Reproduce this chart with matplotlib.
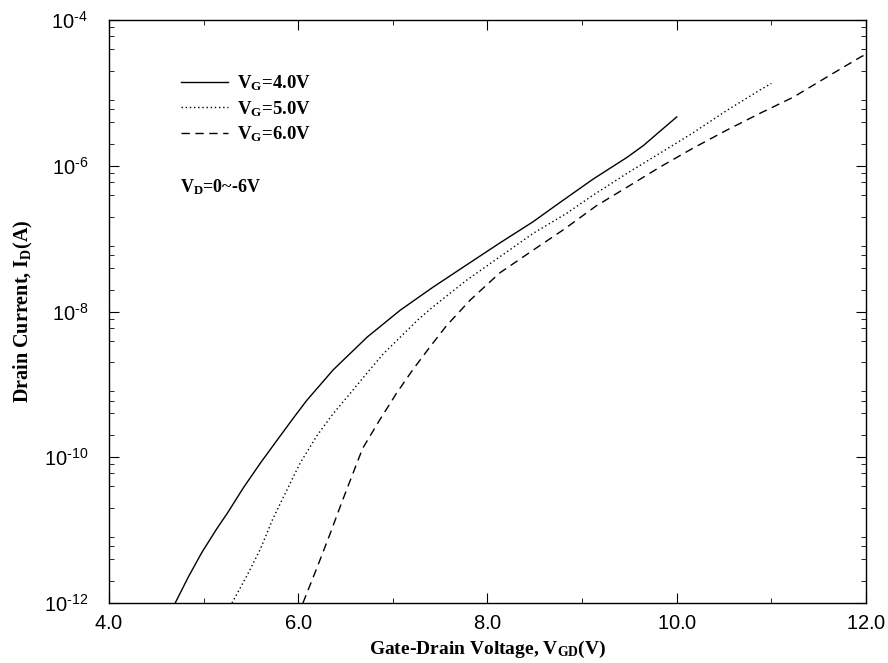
import numpy as np
import matplotlib.pyplot as plt
from matplotlib.ticker import LogLocator, FixedLocator, MultipleLocator

plt.rcParams['mathtext.fontset'] = 'custom'
plt.rcParams['mathtext.rm'] = 'Liberation Serif:bold'
plt.rcParams['mathtext.it'] = 'Liberation Serif:bold'
plt.rcParams['mathtext.bf'] = 'Liberation Serif:bold'
plt.rcParams['mathtext.sf'] = 'Liberation Sans'

# V_G = 4.0 V  (log10 of drain current)
vgd_4 = [4.70, 4.84, 4.98, 5.14, 5.25, 5.42, 5.60, 5.78, 5.95, 6.09, 6.37, 6.73, 7.08, 7.42,
         7.78, 8.13, 8.48, 8.77, 9.12, 9.48, 9.65, 9.82, 10.0]
logi_4 = [-12.0, -11.64, -11.31, -10.98, -10.77, -10.42, -10.08, -9.76, -9.46, -9.22, -8.80, -8.35, -7.98, -7.67,
          -7.36, -7.06, -6.77, -6.50, -6.18, -5.88, -5.72, -5.53, -5.33]

# V_G = 5.0 V
vgd_5 = [5.30, 5.46, 5.60, 5.73, 5.88, 6.02, 6.20, 6.37, 6.52, 6.73, 6.90, 7.08, 7.26, 7.42,
         7.78, 8.13, 8.48, 8.84, 9.12, 9.48, 9.82, 10.17, 10.53, 10.88, 11.0]
logi_5 = [-12.0, -11.62, -11.26, -10.85, -10.45, -10.08, -9.70, -9.40, -9.17, -8.84, -8.58, -8.35, -8.12, -7.94,
          -7.57, -7.25, -6.93, -6.65, -6.40, -6.10, -5.83, -5.55, -5.24, -4.96, -4.87]

# V_G = 6.0 V
vgd_6 = [6.05, 6.20, 6.34, 6.46, 6.57, 6.68, 6.86, 7.04, 7.21, 7.39, 7.57, 7.82, 8.13, 8.48,
         8.80, 9.15, 9.48, 9.82, 10.17, 10.53, 10.88, 11.23, 11.59, 11.94, 12.0]
logi_6 = [-12.0, -11.51, -11.04, -10.62, -10.25, -9.88, -9.49, -9.12, -8.80, -8.49, -8.19, -7.84, -7.47, -7.16,
          -6.88, -6.55, -6.29, -6.02, -5.76, -5.51, -5.28, -5.06, -4.78, -4.51, -4.47]

x_ticks = [4.0, 6.0, 8.0, 10.0, 12.0]
y_ticks = [1e-12, 1e-10, 1e-8, 1e-6, 1e-4]

fig = plt.figure(figsize=(8.88, 6.63), dpi=100)
ax = fig.add_axes([0.1227, 0.0905, 0.8525, 0.8793])

ax.plot(vgd_4, 10 ** np.array(logi_4), color='black', lw=1.0, ls='-', label=r'V$_{\mathrm{G}}$=4.0V')
ax.plot(vgd_5, 10 ** np.array(logi_5), color='black', lw=1.0, ls=(0, (1, 2)), label=r'V$_{\mathrm{G}}$=5.0V')
ax.plot(vgd_6, 10 ** np.array(logi_6), color='black', lw=1.0, ls=(0, (6, 4)), label=r'V$_{\mathrm{G}}$=6.0V')

ax.set_yscale('log')
ax.set_xlim(4, 12)
ax.set_ylim(1e-12, 1e-4)

ax.xaxis.set_major_locator(FixedLocator(x_ticks))
ax.xaxis.set_minor_locator(MultipleLocator(1.0))
ax.set_xticklabels([r'$\mathsf{%.1f}$' % v for v in x_ticks])
ax.yaxis.set_major_locator(FixedLocator(y_ticks))
ax.yaxis.set_minor_locator(LogLocator(base=10, subs=(2, 4, 6, 8), numticks=20))
# short hyphen in the exponent, like the original
ax.set_yticklabels(['$\\mathsf{10^{\u2010%d}}$' % -int(np.log10(v)) for v in y_ticks])
ax.tick_params(which='both', direction='in', top=True, right=True, labelsize=14.5)
ax.tick_params(which='major', length=7)
ax.tick_params(which='minor', length=3.5)
ax.tick_params(axis='x', pad=8)
ax.tick_params(axis='y', pad=15)
for s in ax.spines.values():
    s.set_linewidth(1.0)

ax.set_xlabel(r'Gate-Drain Voltage, V$_{\mathrm{GD}}$(V)', fontfamily='Liberation Serif',
              fontweight='bold', fontsize=14, labelpad=4)
ax.set_ylabel(r'Drain Current, I$_{\mathrm{D}}$(A)', fontfamily='Liberation Serif',
              fontweight='bold', fontsize=14.5, labelpad=6)

leg = ax.legend(loc='upper left', bbox_to_anchor=(0.073, 0.937), frameon=False,
                handlelength=2.5, handletextpad=0.5, labelspacing=0.3,
                prop={'family': 'Liberation Serif', 'weight': 'bold', 'size': 13.5})

ax.text(0.094, 0.714, r'V$_{\mathrm{D}}$=0~-6V', transform=ax.transAxes, fontfamily='Liberation Serif',
        fontweight='bold', fontsize=13, va='center', ha='left')

fig.savefig('out.png', dpi=100)
